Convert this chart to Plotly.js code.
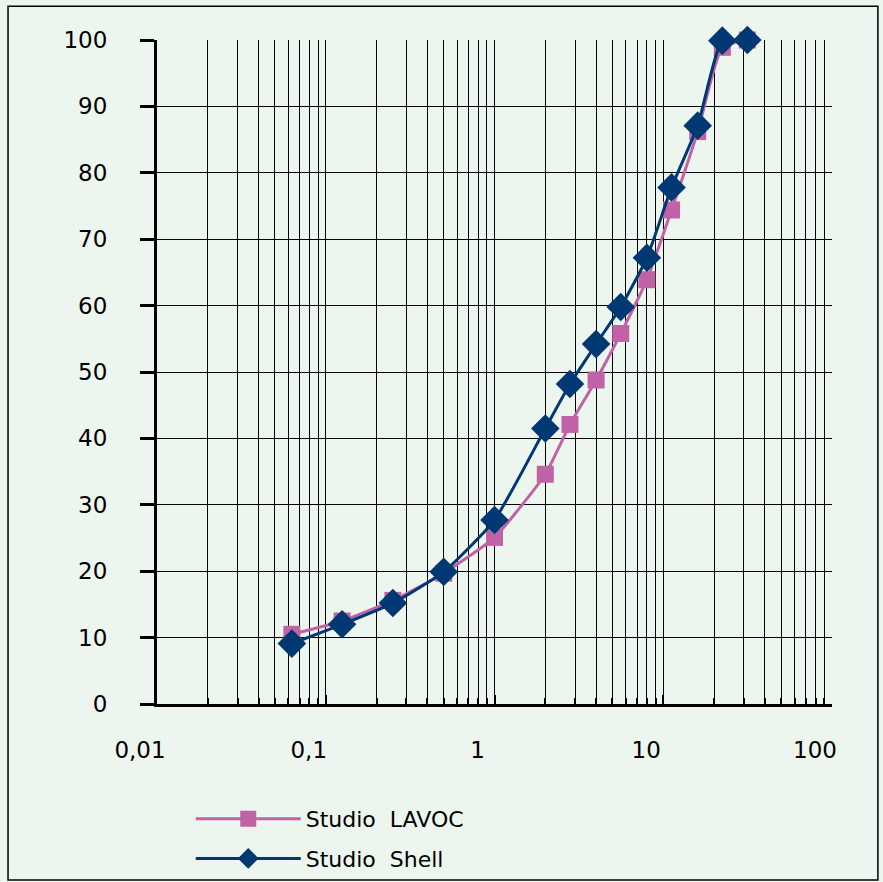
<!DOCTYPE html>
<html>
<head>
<meta charset="utf-8">
<script src="https://cdn.plot.ly/plotly-3.0.1.min.js"></script>
<style>
  html, body { margin: 0; padding: 0; background: #EDF6EE; }
  #chart { width: 883px; height: 882px; }
</style>
</head>
<body>
<div id="chart"></div>
<script>
// Sieve sizes (mm)
const sieveSizes = [0.063, 0.125, 0.25, 0.5, 1, 2, 2.8, 4, 5.6, 8, 11.2, 16, 22.4, 31.5];
// Percent passing
const lavocValues = [10.5, 12.5, 15.6, 19.7, 25.1, 34.6, 42.1, 48.8, 55.8, 63.9, 74.4, 86.2, 98.9, 100];
const shellValues = [9.1, 12.0, 15.2, 19.9, 27.7, 41.5, 48.2, 54.2, 59.8, 67.2, 77.8, 87.1, 99.9, 100];

const xTickVals = [0.01, 0.1, 1, 10, 100];
const xTickText = ["0,01", "0,1", "1", "10", "100"];
const yTickVals = [0, 10, 20, 30, 40, 50, 60, 70, 80, 90, 100];

const seriesNames = ["Studio  LAVOC", "Studio  Shell"];
const pink = "#C062A6";
const navy = "#003874";

const traces = [
  {
    x: sieveSizes, y: lavocValues, name: seriesNames[0], legendgroup: "a",
    type: "scatter", mode: "lines+markers", cliponaxis: false,
    line: { color: pink, width: 3, shape: "spline", smoothing: 0.5 },
    marker: { symbol: "square", size: 17, color: pink }
  },
  {
    x: sieveSizes, y: shellValues, name: seriesNames[1], legendgroup: "b",
    type: "scatter", mode: "lines+markers", cliponaxis: false,
    line: { color: navy, width: 3, shape: "spline", smoothing: 0.5 },
    marker: { symbol: "diamond", size: 22, color: navy }
  }
];

const font = { family: "DejaVu Sans, Verdana, sans-serif", size: 23, color: "#000" };

const layout = {
  width: 883, height: 882,
  paper_bgcolor: "#EDF6EE", plot_bgcolor: "#EDF6EE",
  margin: { l: 157, r: 51, t: 40, b: 178, autoexpand: false },
  font: font,
  showlegend: true,
  legend: {
    x: 0.05, y: -0.1416, xanchor: "left", yanchor: "top",
    bgcolor: "rgba(0,0,0,0)", font: { family: font.family, size: 22, color: "#000" },
    tracegroupgap: 8, itemwidth: 105
  },
  xaxis: {
    type: "log", range: [-2, 2], automargin: false,
    tickvals: xTickVals, ticktext: xTickText,
    ticks: "inside", ticklen: 9, tickwidth: 2, tickcolor: "#000",
    ticklabelstandoff: 23, ticklabelshift: -17,
    showline: true, linecolor: "#000", linewidth: 3,
    showgrid: true, gridcolor: "#000", gridwidth: 1,
    minor: { dtick: "D1", showgrid: true, gridcolor: "#000", gridwidth: 1, ticks: "inside", ticklen: 6, tickwidth: 2, tickcolor: "#000" },
    zeroline: false, fixedrange: true
  },
  yaxis: {
    range: [0, 100], tickvals: yTickVals, automargin: false,
    ticks: "outside", ticklen: 14, tickwidth: 3, tickcolor: "#000",
    ticklabelstandoff: 28,
    showline: true, linecolor: "#000", linewidth: 3,
    showgrid: true, gridcolor: "#000", gridwidth: 1,
    zeroline: false, fixedrange: true
  },
  shapes: [
    { type: "rect", xref: "paper", yref: "paper", x0: -0.2207, x1: 1.068, y0: -0.265, y1: 1.051,
      line: { color: "#000", width: 1.5 }, fillcolor: "rgba(0,0,0,0)", layer: "below" }
  ]
};

Plotly.newPlot("chart", traces, layout, { displayModeBar: false, staticPlot: true });
</script>
</body>
</html>
